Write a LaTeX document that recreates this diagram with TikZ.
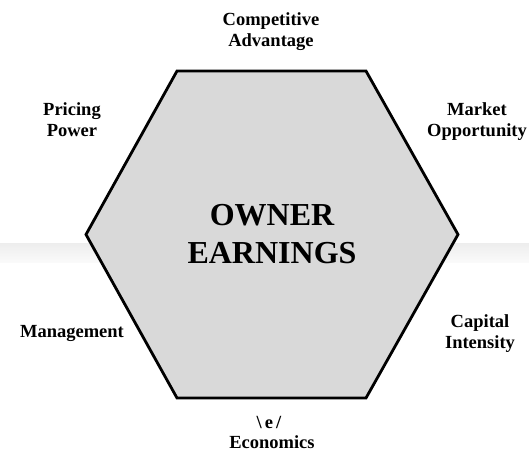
\documentclass[tikz,border=0pt]{standalone}
\usepackage{fontspec}
\setmainfont{Liberation Serif}
\begin{document}
\begin{tikzpicture}[x=1pt,y=-1pt,
  lbl/.style={font=\fontsize{18.5}{21}\selectfont\bfseries, align=center, anchor=base, inner sep=0pt},
  hexfill/.style={draw=black, line width=2.8pt, line join=miter, fill=black!15},
  title/.style={font=\fontsize{32}{38}\selectfont\bfseries, align=center, anchor=base, inner sep=0pt}]
  \useasboundingbox (0,0) rectangle (529,457);
  % faint horizontal band running across the page
  \shade[top color=black!7, bottom color=black!2] (0,243) rectangle (529,262);
  % hexagon corners
  \coordinate (tl) at (177,71);
  \coordinate (tr) at (366,71);
  \coordinate (r)  at (458,234.5);
  \coordinate (br) at (366,398);
  \coordinate (bl) at (177,398);
  \coordinate (l)  at (86,234.5);
  \draw[hexfill] (tl) -- (tr) -- (r) -- (br) -- (bl) -- (l) -- cycle;
  % centre title
  \node[title] (owner) at (272,263) {OWNER\\EARNINGS};
  % surrounding factors
  \node[lbl] (comp) at (271,47)  {Competitive\\Advantage};
  \node[lbl] (pric) at (72,137)  {Pricing\\Power};
  \node[lbl] (mark) at (477,137) {Market\\Opportunity};
  \node[lbl] (mgmt) at (72,337)  {Management};
  \node[lbl] (capi) at (480,348) {Capital\\Intensity};
  \node[lbl] (econ) at (272,448) {Economics};
  \node[lbl] (mark2) at (269,428) {\textbackslash\,e\,/};
\end{tikzpicture}
\end{document}
